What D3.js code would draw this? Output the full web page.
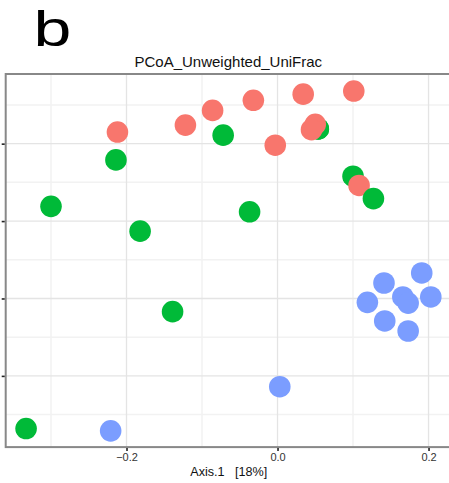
<!DOCTYPE html>
<html>
<head>
<meta charset="utf-8">
<script src="https://cdn.jsdelivr.net/npm/d3@7"></script>
<style>
  html, body { margin: 0; padding: 0; background: #fff; }
  svg { display: block; font-family: "Liberation Sans", Arial, Helvetica, sans-serif; }
</style>
</head>
<body>
<div id="chart"></div>
<script>
// ---- data ----
const groups = ["A", "B", "C"];
const groupColors = ["#F8766D", "#00BA38", "#7B9DFF"];
// points in drawing order
const pointGroup = ["B","B","B","B","B","B","B","B","B","B",
                    "A","A","A","A","A","A","A","A","A","A",
                    "B",
                    "C","C","C","C","C","C","C","C","C","C"];
const axis1 = [-0.072,-0.214,-0.300,-0.182,-0.037, 0.100,-0.139,-0.333, 0.054, 0.054,
               -0.212,-0.122,-0.086,-0.032, 0.034, 0.101, 0.050, 0.045,-0.003, 0.108,
                0.127,
                0.141, 0.191, 0.119, 0.166, 0.173, 0.203, 0.142, 0.173, 0.003,-0.221];
const axis2 = [ 0.211, 0.179, 0.119, 0.087, 0.112, 0.158,-0.017,-0.168, 0.219, 0.219,
                0.215, 0.224, 0.243, 0.256, 0.264, 0.268, 0.225, 0.218, 0.198, 0.146,
                0.129,
                0.020, 0.033,-0.005, 0.002,-0.006, 0.002,-0.029,-0.042,-0.114,-0.171];
const xTicks = [-0.2, 0.0, 0.2];
const xTickLabels = ["\u22120.2", "0.0", "0.2"];
const xMinor = [-0.3, -0.1, 0.1];
const yTicks = [0.2, 0.1, 0.0, -0.1];
const yMinor = [0.25, 0.15, 0.05, -0.05, -0.15];
const title = "PCoA_Unweighted_UniFrac";
const xTitle = "Axis.1   [18%]";
const panelLetter = "b";

// ---- layout ----
const W = 449, H = 483;
const svg = d3.select("#chart").append("svg").attr("width", W).attr("height", H);

const x = d3.scaleLinear().domain([-0.36, 0.232]).range([5.7, 452.7]);
const y = d3.scaleLinear().domain([-0.192, 0.29]).range([447.1, 74]);
const color = d3.scaleOrdinal().domain(groups).range(groupColors);

const pLeft = x.range()[0], pRight = x.range()[1], pTop = y.range()[1], pBottom = y.range()[0];

// minor grid
svg.append("g").selectAll("line").data(xMinor).join("line")
  .attr("x1", d => x(d)).attr("x2", d => x(d)).attr("y1", pTop).attr("y2", pBottom)
  .attr("stroke", "#f2f2f2").attr("stroke-width", 1.5);
svg.append("g").selectAll("line").data(yMinor).join("line")
  .attr("y1", d => y(d)).attr("y2", d => y(d)).attr("x1", pLeft).attr("x2", pRight)
  .attr("stroke", "#f2f2f2").attr("stroke-width", 1.5);
// major grid
svg.append("g").selectAll("line").data(xTicks).join("line")
  .attr("x1", d => x(d)).attr("x2", d => x(d)).attr("y1", pTop).attr("y2", pBottom)
  .attr("stroke", "#e4e4e4").attr("stroke-width", 1.3);
svg.append("g").selectAll("line").data(yTicks).join("line")
  .attr("y1", d => y(d)).attr("y2", d => y(d)).attr("x1", pLeft).attr("x2", pRight)
  .attr("stroke", "#e4e4e4").attr("stroke-width", 1.3);

// points
const pts = axis1.map((v, i) => ({x: v, y: axis2[i], g: pointGroup[i]}));
svg.append("g").selectAll("circle").data(pts).join("circle")
  .attr("cx", d => x(d.x)).attr("cy", d => y(d.y)).attr("r", 10.8)
  .attr("fill", d => color(d.g));

// panel border
svg.append("rect").attr("x", pLeft).attr("y", pTop)
  .attr("width", pRight - pLeft).attr("height", pBottom - pTop)
  .attr("fill", "none").attr("stroke", "#888").attr("stroke-width", 2);

// x axis
const xAxis = d3.axisBottom(x).tickValues(xTicks)
  .tickFormat((d, i) => xTickLabels[i]).tickSize(3).tickPadding(2);
const gx = svg.append("g").attr("transform", `translate(0,${pBottom + 1})`).call(xAxis);
gx.select(".domain").remove();
gx.selectAll(".tick line").attr("stroke", "#222").attr("stroke-width", 1.6);
gx.selectAll(".tick text").attr("fill", "#333").attr("font-size", 11)
  .attr("font-family", "Liberation Sans, Arial, sans-serif");

// y axis (labels cropped away in the reference)
const yAxis = d3.axisLeft(y).tickValues(yTicks).tickFormat("").tickSize(3);
const gy = svg.append("g").attr("transform", `translate(${pLeft - 1},0)`).call(yAxis);
gy.select(".domain").remove();
gy.selectAll(".tick line").attr("stroke", "#222").attr("stroke-width", 1.6);

// titles
svg.append("text").attr("x", 228.3).attr("y", 67).attr("text-anchor", "middle")
  .attr("font-size", 15).attr("fill", "#111").text(title);
svg.append("text").attr("x", 228.8).attr("y", 476).attr("text-anchor", "middle")
  .attr("font-size", 12.6).attr("fill", "#111").style("white-space", "pre").text(xTitle);
svg.append("text").attr("transform", "translate(33.5,46) scale(1.36,1)")
  .attr("font-size", 50).attr("fill", "#000").text(panelLetter);
</script>
</body>
</html>
